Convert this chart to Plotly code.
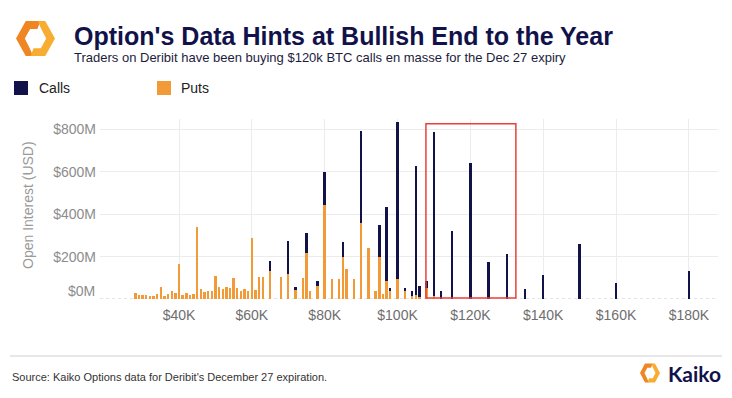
import plotly.graph_objects as go

# ---------------- data (strike in $K, open interest in $M) ----------------
strikes = [28, 29, 30, 31, 32, 33, 34, 35, 36, 37, 38, 39, 40, 41, 42, 43, 44, 45,
           46, 47, 48, 49, 50, 51, 52, 53, 54, 55, 56, 57, 58, 59, 60, 61, 62, 63,
           65, 68, 70, 72, 74, 75, 76, 78, 80, 82, 84, 85, 86, 88, 90, 92, 94, 95,
           96, 97, 98, 100, 102, 104, 105, 106, 108, 110, 112, 115, 120, 125, 130,
           135, 140, 150, 160, 180]
puts = [30, 19, 19, 19, 14, 14, 24, 58, 14, 25, 36, 30, 165, 19, 30, 19, 25, 340,
        47, 32, 36, 36, 109, 58, 47, 58, 52, 98, 52, 36, 47, 36, 287, 42, 102, 102,
        130, 102, 118, 41, 98, 217, 36, 61, 446, 93, 93, 197, 142, 93, 357, 241, 38, 197,
        24, 87, 42, 93, 38, 16, 19, 9, 50, 14, 0, 0, 0, 0, 0,
        0, 0, 0, 0, 0]
calls = [0, 0, 0, 0, 0, 0, 0, 0, 0, 0, 0, 0, 0, 0, 0, 0, 0, 0,
         0, 0, 0, 0, 0, 0, 0, 0, 0, 0, 0, 0, 0, 0, 0, 0, 0, 0,
         50, 0, 156, 17, 0, 96, 0, 24, 156, 0, 0, 72, 0, 0, 438, 0, 0, 151,
         0, 348, 8, 742, 16, 22, 611, 54, 35, 775, 36, 320, 641, 175, 214,
         47, 115, 258, 76, 131]
x_tickvals = [40, 60, 80, 100, 120, 140, 160, 180]
x_ticktext = ["$40K", "$60K", "$80K", "$100K", "$120K", "$140K", "$160K", "$180K"]
y_tickvals = [200, 400, 600, 800]
y_ticktext = ["$200M", "$400M", "$600M", "$800M"]
highlight = [107.8, 132.5, 5, 827]  # x0, x1, y0, y1 of the red box

NAVY = "#12124a"
ORANGE = "#f39a38"
FONT = "Liberation Sans, Arial, sans-serif"

W, H = 732, 398
L, R, T, B = 100, 14, 119, 99
PW, PH = W - L - R, H - T - B


def px(x):
    return (x - L) / PW


def py(y):
    return (H - B - y) / PH


fig = go.Figure()
fig.add_trace(go.Bar(x=strikes, y=puts, name="Puts", marker_color=ORANGE,
                     marker_line_width=0, width=0.66))
fig.add_trace(go.Bar(x=strikes, y=calls, name="Calls", marker_color=NAVY,
                     marker_line_width=0, width=0.66))

shapes = []
# zero line (dotted)
shapes.append(dict(type="line", xref="paper", yref="y", x0=0, x1=1, y0=0, y1=0,
                   line=dict(color="#c8c8c8", width=1, dash="dot"), layer="below"))
# red highlight box
shapes.append(dict(type="rect", xref="x", yref="y", x0=highlight[0], x1=highlight[1],
                   y0=highlight[2], y1=highlight[3],
                   line=dict(color="#e8413b", width=1.5), fillcolor="rgba(0,0,0,0)"))
# divider line
shapes.append(dict(type="line", xref="paper", yref="paper", x0=px(10), x1=px(722),
                   y0=py(356), y1=py(356), line=dict(color="#cfcfcf", width=1)))
# legend squares
for (x0, col) in [(14, NAVY), (157, ORANGE)]:
    shapes.append(dict(type="rect", xref="paper", yref="paper", x0=px(x0), x1=px(x0 + 14),
                       y0=py(81), y1=py(95), line=dict(width=0), fillcolor=col))


def hex_logo(cx, cy, rx, ry, c1, c2):
    k = 0.55
    piece = [(0.25, -1), (-0.5, -1), (-1, 0), (-0.5, 1), (-0.12, 1),
             (-0.5 * k - 0.02, k), (-k, 0), (-0.5 * k, -k), (0.1, -k)]
    out = []
    for sgn, col in [(1, c1), (-1, c2)]:
        pts = [(cx + sgn * a * rx, cy + sgn * b * ry) for a, b in piece]
        path = "M " + " L ".join(f"{px(x):.5f},{py(y):.5f}" for x, y in pts) + " Z"
        out.append(dict(type="path", xref="paper", yref="paper", path=path,
                        fillcolor=col, line=dict(width=0)))
    return out


shapes += hex_logo(35.5, 38.5, 19.5, 17.5, "#f08524", "#f6ad32")
shapes += hex_logo(650, 373, 10, 9.5, "#f08524", "#f6ad32")

annotations = [
    dict(text="<b>Option's Data Hints at Bullish End to the Year</b>", x=px(72), y=py(35.5),
         xref="paper", yref="paper", xanchor="left", yanchor="middle", showarrow=False,
         font=dict(family=FONT, size=25, color=NAVY)),
    dict(text="Traders on Deribit have been buying $120k BTC calls en masse for the Dec 27 expiry",
         x=px(72), y=py(57.5), xref="paper", yref="paper", xanchor="left", yanchor="middle",
         showarrow=False, font=dict(family=FONT, size=13, color="#1c1c3c")),
    dict(text="Calls", x=px(37), y=py(88), xref="paper", yref="paper", xanchor="left",
         yanchor="middle", showarrow=False, font=dict(family=FONT, size=14, color="#222")),
    dict(text="Puts", x=px(179), y=py(88), xref="paper", yref="paper", xanchor="left",
         yanchor="middle", showarrow=False, font=dict(family=FONT, size=14, color="#222")),
    dict(text="$0M", x=px(97), y=py(291), xref="paper", yref="paper", xanchor="right",
         yanchor="middle", showarrow=False, font=dict(family=FONT, size=14, color="#8c8c8c")),
    dict(text="Open Interest (USD)", x=px(28), y=py(205), xref="paper", yref="paper",
         xanchor="center", yanchor="middle", textangle=-90, showarrow=False,
         font=dict(family=FONT, size=14, color="#9a9a9a")),
    dict(text="Source: Kaiko Options data for Deribit's December 27 expiration.",
         x=px(10), y=py(377), xref="paper", yref="paper", xanchor="left", yanchor="middle",
         showarrow=False, font=dict(family=FONT, size=11, color="#333")),
    dict(text="<b>Kaiko</b>", x=px(666), y=py(373), xref="paper", yref="paper",
         xanchor="left", yanchor="middle", showarrow=False,
         font=dict(family="Lato, " + FONT, size=21, color=NAVY)),
]

fig.update_layout(
    width=W, height=H, margin=dict(l=L, r=R, t=T, b=B, autoexpand=False),
    barmode="stack", bargap=0, showlegend=False,
    paper_bgcolor="white", plot_bgcolor="white",
    font=dict(family=FONT),
    shapes=shapes, annotations=annotations,
    xaxis=dict(range=[18.3, 188.0], tickvals=x_tickvals, ticktext=x_ticktext,
               showgrid=True, gridcolor="#ececec", gridwidth=1, zeroline=False,
               showline=False, ticks="", ticklabelstandoff=6,
               tickfont=dict(family=FONT, size=14, color="#6e6e6e")),
    yaxis=dict(range=[0, 850], tickvals=y_tickvals, ticktext=y_ticktext,
               showgrid=True, gridcolor="#ececec", gridwidth=1, zeroline=False,
               showline=False, ticks="", ticklabelstandoff=3,
               tickfont=dict(family=FONT, size=14, color="#8c8c8c")),
)

fig.write_html("out.html", config={"displayModeBar": False},
               post_script="document.body.style.margin='0px';document.body.style.overflow='hidden';")
